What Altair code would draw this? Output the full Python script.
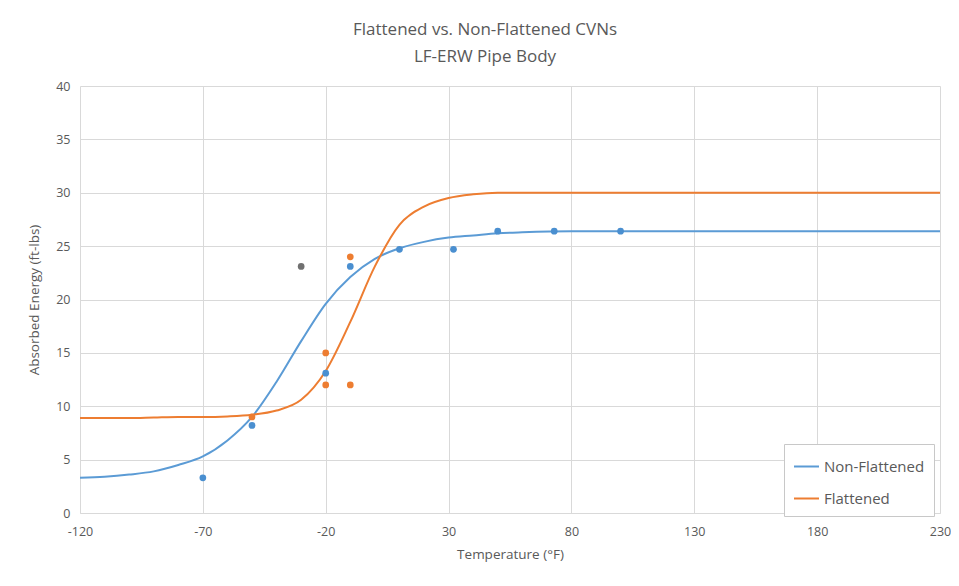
import altair as alt
import pandas as pd

# Fitted curve readings (Temperature °F -> Absorbed energy ft-lbs)
curve_T = [-120, -110, -100, -90, -80, -70, -60, -50, -40, -30, -20, -10, 0, 10, 20, 30, 40, 50, 60, 80, 100, 130, 180, 230]
curve_nonflat = [3.3, 3.4, 3.6, 3.9, 4.5, 5.3, 6.8, 9.0, 12.3, 16.1, 19.6, 22.1, 23.8, 24.8, 25.4, 25.8, 26.0, 26.2, 26.3, 26.4, 26.4, 26.4, 26.4, 26.4]
curve_flat = [8.9, 8.9, 8.9, 8.95, 9.0, 9.0, 9.05, 9.2, 9.6, 10.6, 13.3, 17.9, 23.1, 27.0, 28.7, 29.5, 29.85, 30.0, 30.0, 30.0, 30.0, 30.0, 30.0, 30.0]

# Measured points
nonflat_T = [-70, -50, -20, -10, 10, 32, 50, 73, 100]
nonflat_E = [3.3, 8.2, 13.1, 23.1, 24.7, 24.7, 26.4, 26.4, 26.4]
flat_T = [-50, -20, -20, -10, -10]
flat_E = [9.0, 15.0, 12.0, 24.0, 12.0]
other_T = [-30]
other_E = [23.1]

x_ticks = [-120, -70, -20, 30, 80, 130, 180, 230]
y_ticks = [0, 5, 10, 15, 20, 25, 30, 35, 40]

series = ["Non-Flattened", "Flattened"]
colors = ["#5B9BD5", "#ED7D31"]
point_colors = {"Non-Flattened": "#4A8FD0", "Flattened": "#ED7D31", "Other": "#707070"}

curves = pd.DataFrame(
    [{"T": t, "E": e, "Series": "Non-Flattened"} for t, e in zip(curve_T, curve_nonflat)]
    + [{"T": t, "E": e, "Series": "Flattened"} for t, e in zip(curve_T, curve_flat)]
)
pts = pd.DataFrame(
    [{"T": t, "E": e, "Series": "Non-Flattened"} for t, e in zip(nonflat_T, nonflat_E)]
    + [{"T": t, "E": e, "Series": "Flattened"} for t, e in zip(flat_T, flat_E)]
    + [{"T": t, "E": e, "Series": "Other"} for t, e in zip(other_T, other_E)]
)
pts["col"] = pts["Series"].map(point_colors)

FONT = "Open Sans"
GREY = "#595959"

xenc = alt.X("T:Q", title="Temperature (°F)",
             scale=alt.Scale(domain=[-120, 230], nice=False, zero=False),
             axis=alt.Axis(values=x_ticks, labelPadding=12, titlePadding=10,
                           labelFlush=False, labelExpr="toString(datum.value)"))
yenc = alt.Y("E:Q", title="Absorbed Energy (ft-lbs)",
             scale=alt.Scale(domain=[0, 40], nice=False),
             axis=alt.Axis(values=y_ticks, labelPadding=10, titlePadding=14))

lines = alt.Chart(curves).mark_line(strokeWidth=2, interpolate="monotone").encode(
    x=xenc, y=yenc,
    color=alt.Color("Series:N", scale=alt.Scale(domain=series, range=colors),
                    sort=series,
                    legend=alt.Legend(title=None, orient="none", legendX=704, legendY=358,
                                      symbolType="stroke", symbolSize=625, symbolStrokeWidth=2,
                                      labelFontSize=15, labelColor=GREY, labelFont=FONT,
                                      strokeColor="#c8c8c8", fillColor="white",
                                      padding=9, rowPadding=10, labelOffset=4)),
)

points = alt.Chart(pts).mark_circle(size=45, opacity=1).encode(
    x="T:Q", y="E:Q",
    color=alt.Color("col:N", scale=None),
)

chart = alt.layer(lines, points).properties(
    width=860, height=427,
    title=alt.TitleParams(["Flattened vs. Non-Flattened CVNs", "LF-ERW Pipe Body"],
                          font=FONT, fontSize=17, fontWeight="normal", color=GREY,
                          anchor="middle", dx=-25, offset=14, lineHeight=27),
    autosize=alt.AutoSizeParams(type="none"),
    padding={"left": 72, "top": 78, "right": 11, "bottom": 60},
).configure_view(stroke=None).configure_axis(
    labelFont=FONT, titleFont=FONT, labelFontSize=12.5, titleFontSize=13.5,
    labelColor=GREY, titleColor=GREY, titleFontWeight="normal",
    gridColor="#d9d9d9", gridWidth=1, domainColor="#d9d9d9", ticks=False,
).configure_axisY(domain=False)

chart.save("out.html", embed_options={"renderer": "svg", "actions": False})
